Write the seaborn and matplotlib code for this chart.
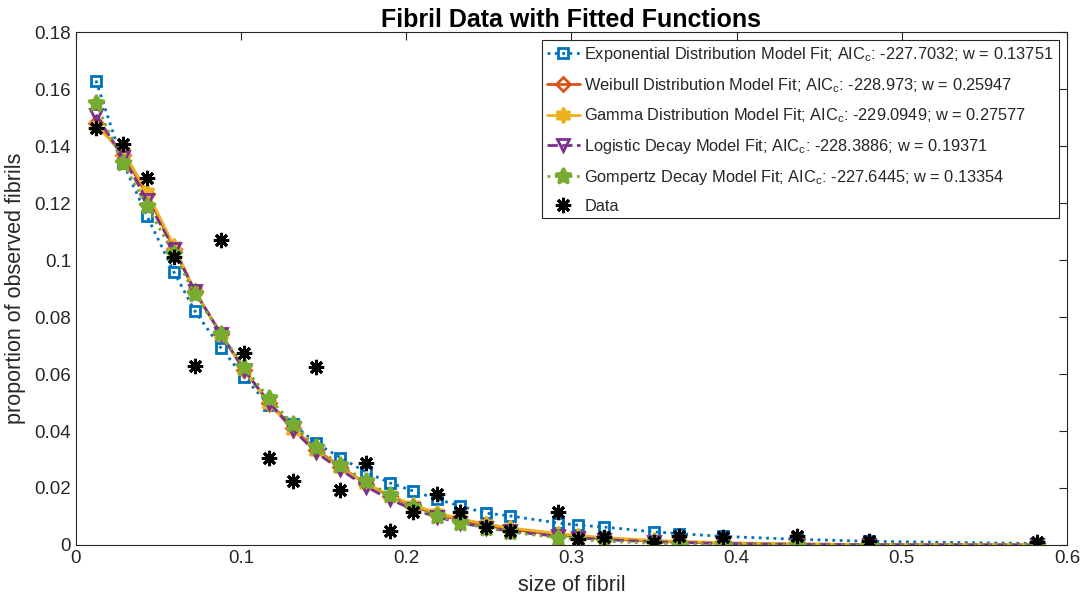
import matplotlib
matplotlib.use("Agg")
import matplotlib.pyplot as plt
import seaborn as sns
import pandas as pd
from matplotlib.ticker import FormatStrFormatter, MultipleLocator

# ---- data ----
sizes = [0.0121, 0.0285, 0.043, 0.0593, 0.072, 0.0878, 0.1017, 0.1169, 0.1314,
         0.1453, 0.16, 0.1756, 0.19, 0.204, 0.2186, 0.2325, 0.248, 0.2628, 0.292,
         0.304, 0.3197, 0.35, 0.365, 0.392, 0.4365, 0.48, 0.582]

observed = [0.1463, 0.1407, 0.1288, 0.1011, 0.0628, 0.107, 0.0674, 0.0305, 0.0225,
            0.0623, 0.0193, 0.0288, 0.0049, 0.0114, 0.0179, 0.0116, 0.0063, 0.0048,
            0.0114, 0.0022, 0.0028, 0.0012, 0.0031, 0.0027, 0.0031, 0.0014, 0.0012]

exponential = [0.163, 0.134, 0.1154, 0.0958, 0.0821, 0.0691, 0.059, 0.049, 0.0425,
               0.0357, 0.0307, 0.0256, 0.0218, 0.019, 0.0161, 0.0137, 0.0112, 0.0102,
               0.0077, 0.007, 0.0063, 0.0046, 0.004, 0.003, 0.002, 0.0013, 0.0005]

weibull = [0.148, 0.137, 0.123, 0.104, 0.089, 0.074, 0.0615, 0.050, 0.041, 0.0335,
           0.0275, 0.0215, 0.0172, 0.0135, 0.0108, 0.0087, 0.0069, 0.0055, 0.0035,
           0.0029, 0.0022, 0.0013, 0.0010, 0.0006, 0.0003, 0.00015, 0.00003]

gamma = [0.147, 0.138, 0.124, 0.105, 0.089, 0.074, 0.0615, 0.0495, 0.0405, 0.033,
         0.027, 0.0215, 0.0175, 0.014, 0.0113, 0.0092, 0.0074, 0.006, 0.004, 0.0033,
         0.0026, 0.0016, 0.0013, 0.0008, 0.0004, 0.0002, 0.00005]

logistic = [0.151, 0.136, 0.121, 0.104, 0.089, 0.074, 0.0615, 0.050, 0.0405, 0.0325,
            0.0265, 0.0205, 0.016, 0.0125, 0.0098, 0.0078, 0.0061, 0.0048, 0.003,
            0.0025, 0.0019, 0.0011, 0.0009, 0.0005, 0.0002, 0.0001, 0.00001]

gompertz = [0.155, 0.134, 0.119, 0.102, 0.088, 0.074, 0.0625, 0.0515, 0.0425, 0.0345,
            0.028, 0.0225, 0.0175, 0.0133, 0.0103, 0.0078, 0.006, 0.0045, 0.0025,
            0.0019, 0.0013, 0.0006, 0.0004, 0.0002, 0.00005, 0.00001, 0.0]

labels = [
    "Exponential Distribution Model Fit; AIC$_\\mathregular{c}$: -227.7032; w = 0.13751",
    "Weibull Distribution Model Fit; AIC$_\\mathregular{c}$: -228.973; w = 0.25947",
    "Gamma Distribution Model Fit; AIC$_\\mathregular{c}$: -229.0949; w = 0.27577",
    "Logistic Decay Model Fit; AIC$_\\mathregular{c}$: -228.3886; w = 0.19371",
    "Gompertz Decay Model Fit; AIC$_\\mathregular{c}$: -227.6445; w = 0.13354",
    "Data",
]

# ---- styling ----
sns.set_theme(style="white")
plt.rcParams['font.family'] = ['Liberation Sans', 'DejaVu Sans']
plt.rcParams['mathtext.fontset'] = 'custom'
plt.rcParams['mathtext.rm'] = 'Liberation Sans'
plt.rcParams['mathtext.it'] = 'Liberation Sans'

fig = plt.figure(figsize=(10.84, 6.05), dpi=100)
ax = fig.add_axes([0.0701, 0.0992, 0.9142, 0.8478])

df = pd.DataFrame({"size": sizes, "obs": observed, "exp": exponential,
                   "wei": weibull, "gam": gamma, "log": logistic, "gom": gompertz})

star6 = (6, 1, 0)
star5 = (5, 1, 0)

styles = [
    ("exp", "#0072BD", ":", "s", "none", 7),
    ("wei", "#D95319", "-", "D", "none", 7),
    ("gam", "#EDB120", "-", star6, "#EDB120", 11),
    ("log", "#7E2F8E", "--", "v", "none", 9),
    ("gom", "#77AC30", ":", star5, "#77AC30", 12),
]

for (col, color, ls, mk, mfc, ms), lab in zip(styles, labels[:5]):
    sns.lineplot(data=df, x="size", y=col, ax=ax, sort=False, color=color,
                 linestyle=ls, linewidth=2, marker=mk, markersize=ms,
                 markerfacecolor=mfc, markeredgecolor=color, markeredgewidth=2,
                 label=lab, estimator=None)

sns.lineplot(data=df, x="size", y="obs", ax=ax, sort=False, color="black",
             linestyle="none", marker=(8, 2, 0), markersize=11,
             markeredgewidth=2.2, markeredgecolor="black", label=labels[5],
             estimator=None)

ax.set_xlim(0, 0.6)
ax.set_ylim(0, 0.18)
ax.xaxis.set_major_locator(MultipleLocator(0.1))
ax.yaxis.set_major_locator(MultipleLocator(0.02))
ax.xaxis.set_major_formatter(FormatStrFormatter('%g'))
ax.yaxis.set_major_formatter(FormatStrFormatter('%g'))

ax.tick_params(direction='in', length=6, width=0.8, colors='#262626',
               labelsize=13.5, top=True, right=True, labelcolor='#262626')
for s in ax.spines.values():
    s.set_color('#262626')
    s.set_linewidth(0.8)

ax.set_xlabel("size of fibril", fontsize=15.5, color='#262626', labelpad=6)
ax.set_ylabel("proportion of observed fibrils", fontsize=15.5, color='#262626', labelpad=6)
ax.set_title("Fibril Data with Fitted Functions", fontsize=18, fontweight='bold',
             color='black', pad=4)

leg = ax.legend(loc='upper right', fontsize=11.8, frameon=True, fancybox=False,
                edgecolor='#262626', framealpha=1, handlelength=2.0,
                borderaxespad=0.5, labelspacing=0.72, handletextpad=0.3,
                borderpad=0.3)
leg.get_frame().set_linewidth(0.8)

ax.set_facecolor('white')
fig.savefig("out.png", dpi=100, facecolor='white')
